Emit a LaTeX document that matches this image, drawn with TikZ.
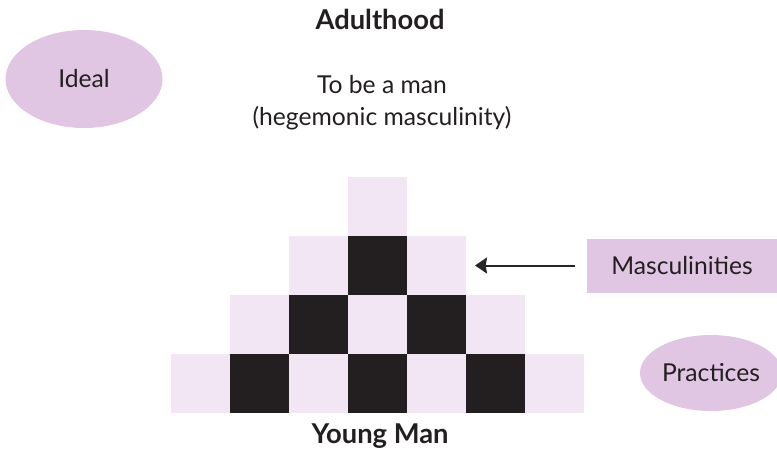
\documentclass[tikz,border=0pt]{standalone}
\usepackage{fontspec}
\setmainfont{Lato}
\usetikzlibrary{shapes.geometric,arrows.meta}
\begin{document}
\begin{tikzpicture}[x=0.75pt,y=-0.75pt,
  label text/.style={font=\fontsize{18.5}{24}\selectfont, text={rgb,255:red,35;green,31;blue,32}},
  title text/.style={font=\fontsize{20.5}{24}\selectfont\bfseries, text={rgb,255:red,35;green,31;blue,32}},
  pink shape/.style={fill={rgb,255:red,225;green,198;blue,228}, label text, inner sep=0pt}]
% Pyramid of cells, 59px per cell
\def\cellsz{44.25pt}
\providecommand{\pyrLightColor}{rgb,255:red,243;green,230;blue,244}
\providecommand{\pyrDarkColor}{rgb,255:red,35;green,31;blue,32}
\useasboundingbox (0,0) rectangle (777,451);
\begin{scope}[shift={(171,413)}, x=\cellsz, y=\cellsz]
  % Light cells
  \begin{scope}[fill=\pyrLightColor]
    \fill (0,0) rectangle ++(1,1);
    \fill (2,0) rectangle ++(1,1);
    \fill (4,0) rectangle ++(1,1);
    \fill (6,0) rectangle ++(1,1);
    \fill (1,1) rectangle ++(1,1);
    \fill (3,1) rectangle ++(1,1);
    \fill (5,1) rectangle ++(1,1);
    \fill (2,2) rectangle ++(1,1);
    \fill (4,2) rectangle ++(1,1);
    \fill (3,3) rectangle ++(1,1);
  \end{scope}
  % Dark cells
  \begin{scope}[fill=\pyrDarkColor]
    \fill (1,0) rectangle ++(1,1);
    \fill (3,0) rectangle ++(1,1);
    \fill (5,0) rectangle ++(1,1);
    \fill (2,1) rectangle ++(1,1);
    \fill (4,1) rectangle ++(1,1);
    \fill (3,2) rectangle ++(1,1);
  \end{scope}
  \coordinate (rowedge) at (5,2.5);
\end{scope}
% Labels
\node[title text] (adult) at (380,19) {Adulthood};
\node[label text, align=center] (ideal text) at (382,103) {To be a man\\(hegemonic masculinity)};
\node[title text] (young) at (380,436) {Young Man};
\node[pink shape, ellipse, minimum width=157*0.75pt, minimum height=98*0.75pt] (ideal) at (84,79) {Ideal};
\node[pink shape, rectangle, minimum width=190*0.75pt, minimum height=54*0.75pt] (masc) at (682,265.5) {Masculinities};
\node[pink shape, ellipse, minimum width=142*0.75pt, minimum height=76*0.75pt] (practices) at (711,373) {Practices};
% Arrow to the second row
\coordinate (masctip) at ([xshift=6.75pt]rowedge);
\draw[line width=1.5pt, draw=black!85, -{Stealth[length=9pt,width=12pt,inset=1pt]}]
  ([xshift=-9pt]masc.west |- masctip) -- (masctip);
\end{tikzpicture}
\end{document}
